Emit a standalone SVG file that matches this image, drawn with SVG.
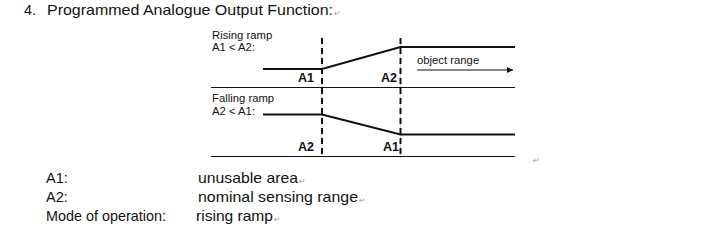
<svg xmlns="http://www.w3.org/2000/svg" width="722" height="229" viewBox="0 0 722 229">
<defs>
<style>
.t{font-family:"Liberation Sans",Arial,sans-serif;fill:#111}
.big{font-size:14.5px}
.sm{font-size:11.3px}
.lb{font-size:12.5px;font-weight:bold}
.rm{font-family:"DejaVu Sans",sans-serif;font-size:8px;fill:#999}
.thin{stroke:#111;stroke-width:1;fill:none}
.thick{stroke:#111;stroke-width:2.2;fill:none}
.guide{stroke:#ccc;stroke-width:0.8}
.dash{stroke:#111;stroke-width:2;stroke-dasharray:6 4}
</style>
<marker id="ah" viewBox="0 0 10 10" refX="10" refY="5" markerWidth="10" markerHeight="6" orient="auto" markerUnits="userSpaceOnUse"><path d="M0,0 L10,5 L0,10 z" fill="#111"/></marker>
</defs>
<rect width="722" height="229" fill="#fff"/>
<g id="title">
<text class="t big" x="24" y="15">4.</text>
<text class="t big" x="47" y="15" textLength="286" lengthAdjust="spacingAndGlyphs">Programmed Analogue Output Function:</text>
<text class="rm" x="334" y="16">↵</text>
</g>
<g id="connectors">
<line class="guide" x1="322" y1="38" x2="322" y2="158"/>
<line class="guide" x1="400.5" y1="38" x2="400.5" y2="158"/>
<line class="dash" x1="322" y1="38" x2="322" y2="158"/>
<line class="dash" x1="400.5" y1="38" x2="400.5" y2="158"/>
<line class="thin" x1="211" y1="87.5" x2="515" y2="87.5"/>
<line class="thin" x1="211" y1="156.5" x2="515" y2="156.5"/>
<polyline class="thick" points="263,69 322,69 400.5,47 515,47"/>
<polyline class="thick" points="263,114.5 322,114.5 400.5,134.5 515,134.5"/>
<line stroke="#111" stroke-width="1.2" x1="417" y1="70" x2="513" y2="70" marker-end="url(#ah)"/>
</g>
<g id="rising">
<text class="t sm" x="212" y="39">Rising ramp</text>
<text class="t sm" x="212" y="51">A1 &lt; A2:</text>
<text class="t lb" x="298" y="82">A1</text>
<text class="t lb" x="381" y="82">A2</text>
<text class="t sm" x="417" y="64">object range</text>
</g>
<g id="falling">
<text class="t sm" x="212" y="102">Falling ramp</text>
<text class="t sm" x="212" y="115">A2 &lt; A1:</text>
<text class="t lb" x="298" y="151">A2</text>
<text class="t lb" x="383" y="151">A1</text>
</g>
<g id="legend">
<text class="t big" x="46" y="183">A1:</text>
<text class="t big" x="198" y="183" textLength="100" lengthAdjust="spacingAndGlyphs">unusable area</text>
<text class="rm" x="299" y="184">↵</text>
<text class="t big" x="46" y="202">A2:</text>
<text class="t big" x="198" y="202" textLength="160" lengthAdjust="spacingAndGlyphs">nominal sensing range</text>
<text class="rm" x="359" y="203">↵</text>
<text class="t big" x="46" y="221" textLength="120" lengthAdjust="spacingAndGlyphs">Mode of operation:</text>
<text class="t big" x="196" y="221" textLength="77" lengthAdjust="spacingAndGlyphs">rising ramp</text>
<text class="rm" x="274" y="222">↵</text>
<text class="rm" x="533" y="163">↵</text>
</g>
</svg>
